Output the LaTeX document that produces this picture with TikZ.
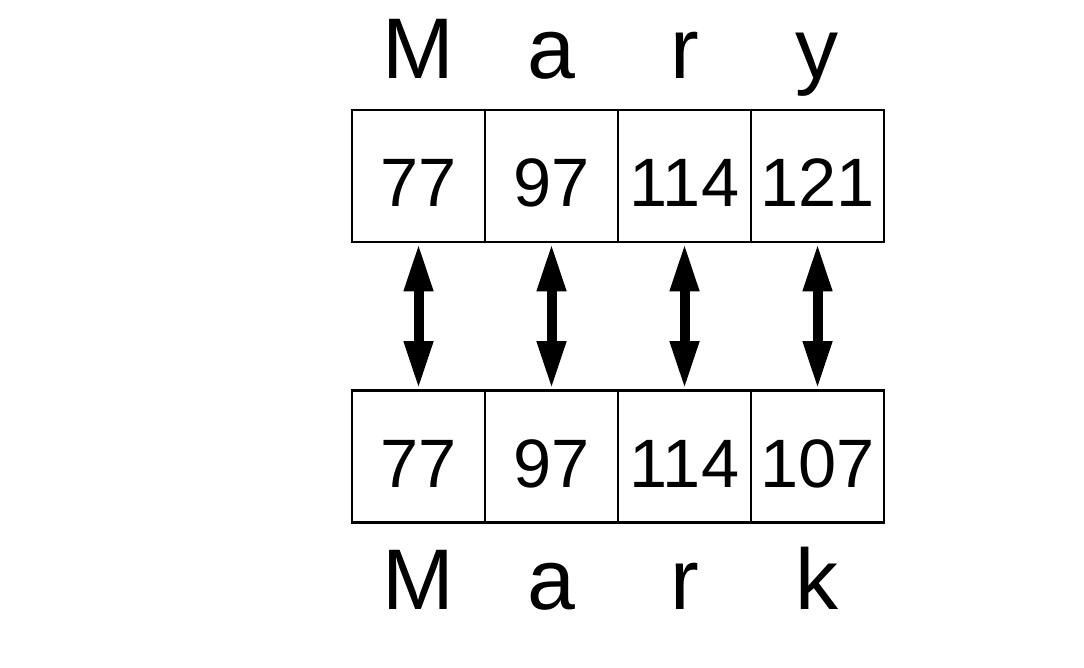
\documentclass[tikz,border=0pt]{standalone}
\usepackage{fontspec}
\setmainfont{Liberation Sans}
\usetikzlibrary{arrows.meta}

\begin{document}
\begin{tikzpicture}[
      x = 0.02cm, y = -0.02cm,
      cell/.style = {
        draw, black, line width = 1.5pt, rectangle,
        minimum width = 2.66cm, minimum height = 2.64cm,
        inner sep = 0pt, text height = 1.24cm, text depth = 0pt,
        font = \fontsize{39}{40}\selectfont},
      letter/.style = {
        anchor = base, inner sep = 0pt,
        font = \fontsize{49}{50}\selectfont},
      link/.style = {
        line width = 0.2cm, black,
        {Triangle[length = 0.96cm, width = 0.54cm]}-{Triangle[length = 0.96cm, width = 0.54cm]}}
      ]
    \useasboundingbox (0,0) rectangle (1084,668);
    % upper word
    \node[letter] (Ly1) at (418.5,79) {M};
    \node[letter] (Ly2) at (551.5,79) {a};
    \node[letter] (Ly3) at (684.5,79) {r};
    \node[letter] (Ly4) at (817.5,79) {y};
    \node[cell] (y1) at (418.5,176) {77}; % M
    \node[cell] (y2) at (551.5,176) {97}; % a
    \node[cell] (y3) at (684.5,176) {114}; % r
    \node[cell] (y4) at (817.5,176) {121}; % y
    % lower word
    \node[cell] (k1) at (418.5,456.5) {77}; % M
    \node[cell] (k2) at (551.5,456.5) {97}; % a
    \node[cell] (k3) at (684.5,456.5) {114}; % r
    \node[cell] (k4) at (817.5,456.5) {107}; % k
    \node[letter] (Lk1) at (418.5,609) {M};
    \node[letter] (Lk2) at (551.5,609) {a};
    \node[letter] (Lk3) at (684.5,609) {r};
    \node[letter] (Lk4) at (817.5,609) {k};
    % comparisons
    \draw[link] (y1.south)--(k1.north);
    \draw[link] (y2.south)--(k2.north);
    \draw[link] (y3.south)--(k3.north);
    \draw[link] (y4.south)--(k4.north);
  \end{tikzpicture}
\end{document}
